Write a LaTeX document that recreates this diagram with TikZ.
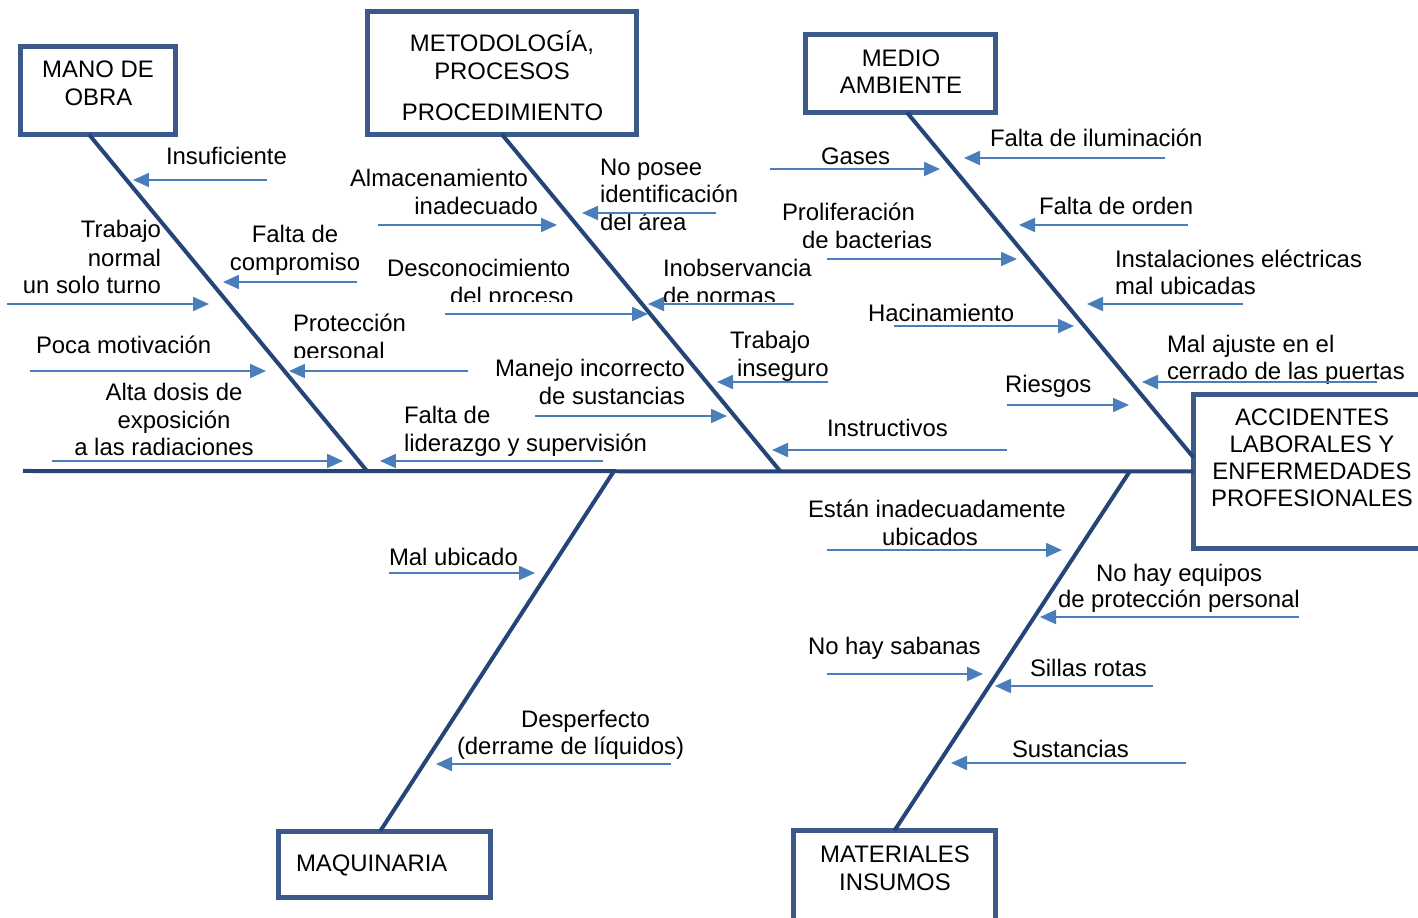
\documentclass[tikz,border=0pt]{standalone}
\usepackage{fontspec}
\setmainfont{Liberation Sans}
\usetikzlibrary{arrows.meta}
\definecolor{boxc}{RGB}{59,90,138}
\definecolor{bonec}{RGB}{37,69,120}
\definecolor{arrc}{RGB}{74,126,187}
\newcommand{\txW}[4]{\node[lbl,anchor=base west] (#1) at (#2,#3) {#4};}
\newcommand{\txE}[4]{\node[lbl,anchor=base east] (#1) at (#2,#3) {#4};}
\newcommand{\txC}[4]{\node[lbl,anchor=base] (#1) at (#2,#3) {#4};}
\newcommand{\arw}[4]{\coordinate (#1s) at (#2,#4); \coordinate (#1e) at (#3,#4); \draw[arr] (#1s) -- (#1e);}
\begin{document}
\begin{tikzpicture}[x=0.02cm,y=-0.02cm,
  lbl/.style={inner sep=0pt,outer sep=0pt,font=\fontsize{13.6pt}{16pt}\selectfont},
  box/.style={draw=boxc,line width=0.1cm,inner sep=0pt,outer sep=0pt},
  bone/.style={draw=bonec,line width=0.08cm},
  arr/.style={draw=arrc,line width=0.04cm,-{Triangle[length=0.32cm,width=0.28cm]}}]
\useasboundingbox (0,0) rectangle (1418,918);

% boxes
\node[box,minimum width=3.1cm,minimum height=1.76cm] (mano) at (98,90.5) {};
\node[box,minimum width=5.38cm,minimum height=2.46cm] (metod) at (502,73) {};
\node[box,minimum width=3.8cm,minimum height=1.56cm] (medio) at (900.5,73.5) {};
\node[box,minimum width=4.63cm,minimum height=3.08cm] (effect) at (1309.25,471.5) {};
\node[box,minimum width=4.24cm,minimum height=1.32cm] (maq) at (384.5,864.5) {};
\node[box,minimum width=4.04cm,minimum height=1.99cm] (mat) at (894.5,880.25) {};

% box texts
\txC{t1}{98}{78}{MANO DE}
\txC{t2}{98.5}{106}{OBRA}
\txC{t3}{502}{52}{METODOLOGÍA,}
\txC{t4}{502}{80}{PROCESOS}
\txC{t5}{502.5}{121}{PROCEDIMIENTO}
\txC{t6}{901}{67}{MEDIO}
\txC{t7}{901}{94}{AMBIENTE}
\txC{t8}{1312}{426}{ACCIDENTES}
\txC{t9}{1312}{453}{LABORALES Y}
\txC{t10}{1312}{480}{ENFERMEDADES}
\txC{t11}{1312}{507}{PROFESIONALES}
\txW{t12}{296}{872}{MAQUINARIA}
\txC{t13}{895}{863}{MATERIALES}
\txC{t14}{895}{891}{INSUMOS}

% spine and bones
\coordinate (sp0) at (23,471);
\coordinate (j1) at (367,471);
\coordinate (j2) at (780,471);
\coordinate (j3) at (614,471);
\coordinate (j4) at (1130,471);
\draw[bone] (sp0) -- (effect.west);
\draw[bone] ([xshift=-0.18cm]mano.south) -- (j1);
\draw[bone] (metod.south) -- (j2);
\draw[bone] ([xshift=0.13cm]medio.south) -- ([yshift=0.28cm]effect.west);
\draw[bone] (j3) -- ([xshift=-0.09cm]maq.north);
\draw[bone] (j4) -- (mat.north);

% MANO DE OBRA
\txW{a1}{166}{165}{Insuficiente}
\arw{r1}{267}{133}{180}
\txE{a2}{161}{238}{Trabajo}
\txE{a3}{161}{267}{normal}
\txE{a4}{161}{294}{un solo turno}
\arw{r2}{7}{209}{304}
\txC{a5}{295}{243}{Falta de}
\txC{a6}{295}{271}{compromiso}
\arw{r3}{357}{223}{282}
\txW{a7}{36}{354}{Poca motivación}
\arw{r4}{30}{266}{371}
\txW{a8}{293}{332}{Protección}
\begin{scope}
\clip (280,300) rectangle (480,358);
\txW{a9}{293}{360}{personal}
\end{scope}
\arw{r5}{468}{289}{371}
\txC{a10}{174}{401}{Alta dosis de}
\txC{a11}{174}{429}{exposición}
\txC{a12}{164}{456}{a las radiaciones}
\arw{r6}{52}{343}{461}

% METODOLOGIA
\txE{b1}{528}{187}{Almacenamiento}
\txE{b2}{538}{215}{inadecuado}
\arw{r7}{378}{557}{225}
\txW{b3}{600}{176}{No posee}
\txW{b4}{600}{203}{identificación}
\txW{b5}{600}{231}{del área}
\arw{r8}{716}{582}{213}
\txW{b6}{387}{277}{Desconocimiento}
\begin{scope}
\clip (440,280) rectangle (600,302);
\txW{b7}{450}{305}{del proceso}
\end{scope}
\arw{r9}{445}{648}{314}
\txW{b8}{663}{277}{Inobservancia}
\begin{scope}
\clip (655,280) rectangle (800,302);
\txW{b9}{663}{305}{de normas}
\end{scope}
\arw{r10}{794}{648}{304}
\txW{b10}{730}{349}{Trabajo}
\txW{b11}{737}{377}{inseguro}
\arw{r11}{828}{717}{382}
\txE{b12}{685}{377}{Manejo incorrecto}
\txE{b13}{685}{405}{de sustancias}
\arw{r12}{535}{727}{416}
\txW{b14}{404}{424}{Falta de}
\txW{b15}{404}{452}{liderazgo y supervisión}
\arw{r13}{603}{380}{461}
\txW{b16}{827}{437}{Instructivos}
\arw{r14}{1007}{772}{450}

% MEDIO AMBIENTE
\txW{c1}{821}{165}{Gases}
\arw{r15}{770}{940}{169}
\txW{c2}{990}{147}{Falta de iluminación}
\arw{r16}{1165}{964}{158}
\txW{c3}{782}{221}{Proliferación}
\begin{scope}
\clip (790,226) rectangle (950,248);
\txW{c4}{802}{249}{de bacterias}
\end{scope}
\arw{r17}{827}{1017}{259}
\txW{c5}{1039}{215}{Falta de orden}
\arw{r18}{1188}{1019}{225}
\txW{c6}{1115}{268}{Instalaciones eléctricas}
\txW{c7}{1115}{295}{mal ubicadas}
\arw{r19}{1243}{1087}{304}
\txW{c8}{868}{322}{Hacinamiento}
\arw{r20}{894}{1074}{326}
\txW{c9}{1167}{353}{Mal ajuste en el}
\txW{c10}{1167}{380}{cerrado de las puertas}
\arw{r21}{1377}{1142}{382}
\txW{c11}{1005}{393}{Riesgos}
\arw{r22}{1007}{1129}{405}

% MAQUINARIA
\txW{d1}{389}{566}{Mal ubicado}
\arw{r23}{389}{535}{573}
\txW{d2}{521}{728}{Desperfecto}
\txW{d3}{457}{755}{(derrame de líquidos)}
\arw{r24}{671}{436}{764}

% MATERIALES
\txW{e1}{808}{518}{Están inadecuadamente}
\txC{e2}{930}{546}{ubicados}
\arw{r25}{827}{1062}{550}
\txW{e3}{1096}{582}{No hay equipos}
\txW{e4}{1058}{608}{de protección personal}
\arw{r26}{1299}{1040}{617}
\txW{e5}{808}{655}{No hay sabanas}
\arw{r27}{827}{983}{674}
\txW{e6}{1030}{677}{Sillas rotas}
\arw{r28}{1153}{995}{686}
\txW{e7}{1012}{758}{Sustancias}
\arw{r29}{1186}{951}{763}
\end{tikzpicture}
\end{document}
